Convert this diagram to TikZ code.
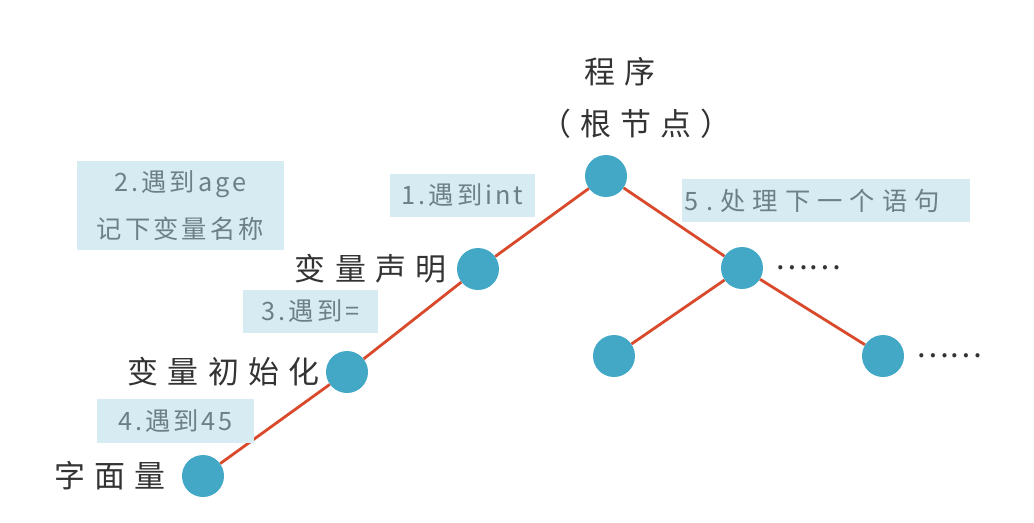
\documentclass[tikz,border=0pt]{standalone}
\usepackage{fontspec}
\setmainfont{Noto Sans CJK SC}
\usepackage{xcolor}
\usetikzlibrary{positioning}
\definecolor{treeblue}{HTML}{43A7C6}
\definecolor{edgered}{HTML}{D84A2B}
\definecolor{notefill}{HTML}{D6EBF2}
\definecolor{notegray}{HTML}{6E8087}
\definecolor{inkgray}{HTML}{333333}
\tikzset{
  tnode/.style ={circle,fill=treeblue,minimum size=1.05cm,inner sep=0pt},
  lbl/.style   ={inner sep=0pt,text=inkgray,
                 font=\fontsize{22}{26}\selectfont\addfontfeatures{LetterSpace=30}},
  dots/.style  ={inner sep=0pt,text=inkgray,font=\fontsize{22}{26}\selectfont},
  note/.style  ={fill=notefill,text=notegray,inner sep=2pt,minimum height=1.08cm,
                 align=center,font=\fontsize{18}{33}\selectfont\addfontfeatures{LetterSpace=12}},
  edge/.style  ={draw=edgered,line width=2pt}
}
\begin{document}
\begin{tikzpicture}[x=0.025cm,y=-0.025cm]
    \useasboundingbox (0,0) rectangle (1034,522);
    % tree nodes
    \node[tnode] (root) at (606,176) {};
    \node[tnode] (decl) at (478,269) {};
    \node[tnode] (init) at (347,372) {};
    \node[tnode] (lit)  at (203,476) {};
    \node[tnode] (next) at (742,268) {};
    \node[tnode] (nl)   at (614,356) {};
    \node[tnode] (nr)   at (883,356) {};
    \draw[edge] (root)--(decl); \draw[edge] (decl)--(init);
    \draw[edge] (init)--(lit);  \draw[edge] (root)--(next);
    \draw[edge] (next)--(nl);   \draw[edge] (next)--(nr);
    % labels
    \node[lbl] (prog) at (620,72) {程序};
    \node[lbl] (rootlbl) at (636,124) {（根节点）};
    \node[lbl,left=2.5mm of decl] (decllbl) {变量声明};
    \node[lbl,left=1.5mm of init] (initlbl) {变量初始化};
    \node[lbl,left=4mm of lit] (litlbl) {字面量};
    \node[dots,right=3mm of next] (dots1) {……};
    \node[dots,right=3mm of nr] (dots2) {……};
    % steps
    \node[note,minimum width=3.63cm] (s1) at (462.5,195.5) {1.遇到int};
    \node[note,minimum width=5.18cm,minimum height=2.22cm] (s2) at (180.5,205.5)
         {2.遇到age\\记下变量名称};
    \node[note,minimum width=3.38cm] (s3) at (310.5,311.5) {3.遇到=};
    \node[note,minimum width=3.93cm] (s4) at (175.5,421) {4.遇到45};
    \node[note,text width=7.05cm,align=left,
          font=\fontsize{18}{33}\selectfont\addfontfeatures{LetterSpace=28}] (s5)
         at (826,200.5) {5.处理下一个语句};
\end{tikzpicture}
\end{document}
